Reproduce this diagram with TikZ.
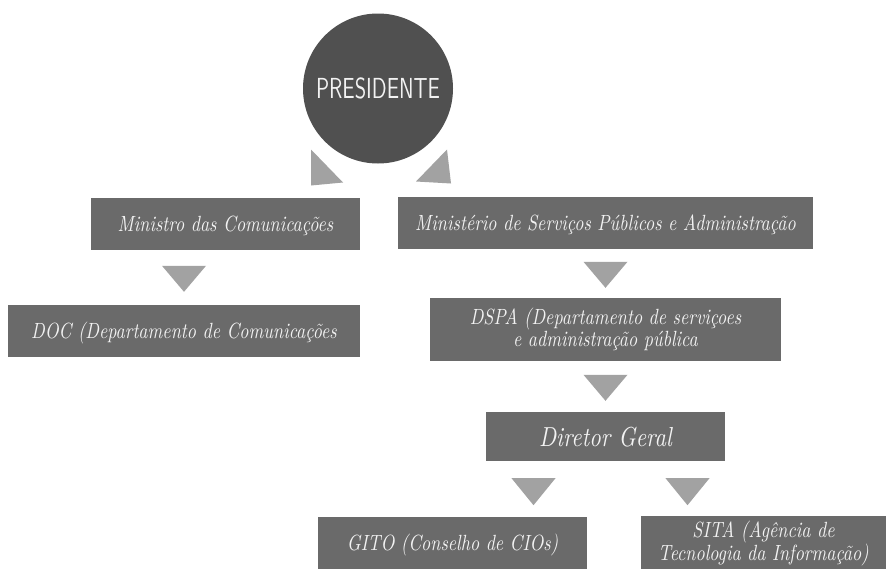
\documentclass[tikz,border=0pt]{standalone}
\usepackage{fontspec}
\usetikzlibrary{calc}
\newfontfamily\boxfont{lmroman10-italic.otf}[FakeStretch=0.82]
\newfontfamily\presfont{lmsans10-regular.otf}[FakeStretch=0.71]
\definecolor{boxgray}{HTML}{6A6A6A}
\definecolor{circgray}{HTML}{505050}
\definecolor{trigray}{HTML}{A2A2A2}
\definecolor{txt}{HTML}{F2F2F2}
\tikzset{
  box/.style={rectangle, fill=boxgray, inner sep=0pt, text=txt,
    font=\boxfont\fontsize{22}{22}\selectfont, text height=15pt, text depth=0pt},
  box2/.style={rectangle, fill=boxgray, inner sep=0pt, text=txt, align=center,
    font=\boxfont\fontsize{22}{17}\selectfont},
  tri/.style={fill=trigray},
}
\begin{document}
\begin{tikzpicture}[x=1pt,y=-1pt]
\fill[white] (0,0) rectangle (886,568);
\useasboundingbox (0,0) rectangle (886,568);
\clip (0,0) rectangle (886,568);

\node[circle, fill=circgray, minimum size=150pt, inner sep=0pt, text=txt,
  font=\presfont\fontsize{29}{29}\selectfont, text height=20pt, text depth=0pt]
  (pres) at (378,88.5) {PRESIDENTE};

\node[box, minimum width=269pt, minimum height=52pt] (min) at (225.5,224) {Ministro das Comunicações};
\node[box, minimum width=415pt, minimum height=52pt] (mspa) at (605.5,223) {Ministério de Serviços Públicos e Administração};
\node[box, minimum width=352pt, minimum height=52pt] (doc) at (184,331) {DOC (Departamento de Comunicações};
\node[box2, minimum width=351pt, minimum height=63pt] (dspa) at (605.5,329.5) {DSPA (Departamento de serviçoes\\e administração pública};
\node[box, minimum width=239pt, minimum height=49pt, font=\boxfont\fontsize{27.5}{27.5}\selectfont, text height=19pt]
  (dg) at (605.5,436.5) {Diretor Geral};
\node[box, minimum width=269pt, minimum height=52pt] (gito) at (452.5,543) {GITO (Conselho de CIOs)};
\node[box2, minimum width=245pt, minimum height=54pt] (sita) at (763.5,543) {SITA (Agência de\\Tecnologia da Informação)};

% triangles near the circle
\fill[tri] ($(pres.center)+(-67,61)$) -- ($(pres.center)+(-35,94)$) -- ($(pres.center)+(-67,97)$) -- cycle;
\fill[tri] ($(pres.center)+(69,61)$) -- ($(pres.center)+(38,93)$) -- ($(pres.center)+(73,95)$) -- cycle;

% downward triangles
\fill[tri] ($(doc.north)+(-22,-39)$) -- ($(doc.north)+(22,-39)$) -- ($(doc.north)+(0,-13)$) -- cycle;
\fill[tri] ($(dspa.north)+(-22,-36)$) -- ($(dspa.north)+(22,-36)$) -- ($(dspa.north)+(0,-10)$) -- cycle;
\fill[tri] ($(dg.north)+(-22,-37)$) -- ($(dg.north)+(22,-37)$) -- ($(dg.north)+(0,-11)$) -- cycle;
\fill[tri] ($(dg.south)+(-94,17)$) -- ($(dg.south)+(-50,17)$) -- ($(dg.south)+(-72,44)$) -- cycle;
\fill[tri] ($(dg.south)+(60,17)$) -- ($(dg.south)+(104,17)$) -- ($(dg.south)+(82,44)$) -- cycle;
\end{tikzpicture}
\end{document}
